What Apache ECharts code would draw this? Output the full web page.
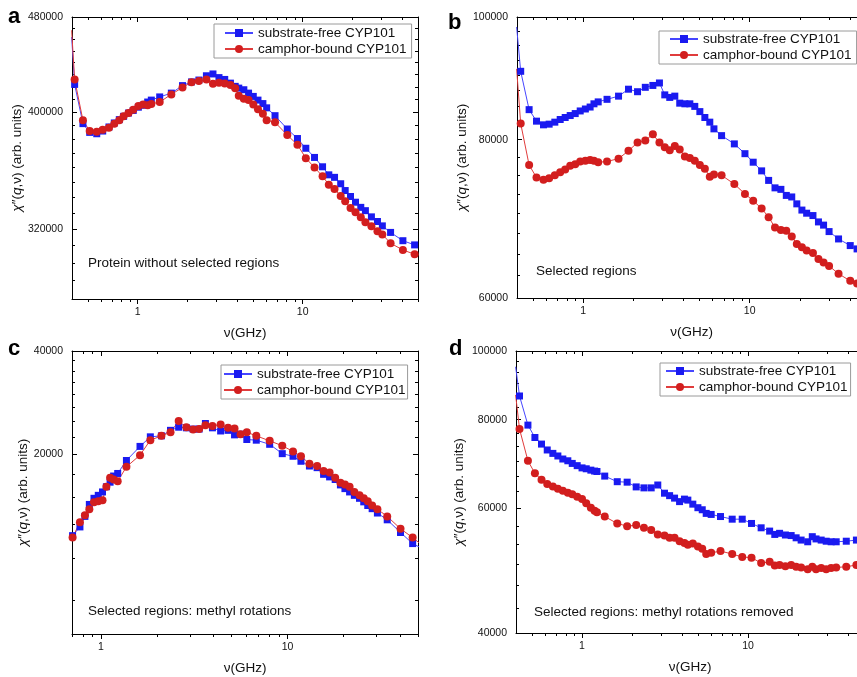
<!DOCTYPE html>
<html>
<head>
<meta charset="utf-8">
<script src="https://cdn.jsdelivr.net/npm/echarts@6.0.0/dist/echarts.min.js"></script>
<style>
html,body{margin:0;padding:0;background:#fff}
#chart{width:857px;height:677px}
</style>
</head>
<body>
<div id="chart"></div>
<script>
var nameFree = 'substrate-free CYP101';
var nameBound = 'camphor-bound CYP101';

// a: protein without selected regions
var freqA = [0.398, 0.415, 0.466, 0.512, 0.565, 0.614, 0.670, 0.722, 0.774, 0.822, 0.88, 0.94, 1.01, 1.08, 1.15, 1.21, 1.36, 1.60, 1.87, 2.12, 2.35, 2.61, 2.86, 3.11, 3.37, 3.65, 3.90, 4.10, 4.40, 4.70, 5.02, 5.36, 5.74, 6.05, 6.80, 8.07, 9.30, 10.45, 11.8, 13.2, 14.4, 15.6, 17.0, 18.1, 19.5, 20.9, 22.5, 24.0, 26.1, 28.4, 30.4, 34.1, 40.5, 47.7];
var freeA = [462000, 422000, 391500, 385000, 384000, 386000, 389000, 392000, 394500, 397000, 399500, 401500, 404000, 405500, 408000, 409500, 412000, 415000, 421000, 424000, 425500, 429000, 430500, 427500, 426000, 423000, 420400, 419000, 417700, 415000, 412400, 409500, 406800, 403500, 397500, 387500, 380500, 373500, 367000, 360500, 355000, 353300, 349000, 344500, 340600, 336900, 333600, 331500, 327600, 324700, 322000, 318000, 313000, 310500];
var boundA = [468000, 426000, 394000, 386000, 385500, 387000, 388500, 391500, 394000, 397000, 399500, 402000, 405000, 406000, 405500, 406500, 408000, 414000, 419500, 423700, 424700, 426000, 422500, 423300, 422700, 421400, 418800, 413000, 410600, 409500, 406000, 402500, 399000, 394000, 392500, 383000, 376000, 366500, 360000, 354000, 348400, 345500, 341000, 337500, 333200, 330500, 327400, 324300, 321700, 318700, 316800, 311500, 307500, 305000];

// b: selected regions
var freqB = [0.398, 0.421, 0.473, 0.524, 0.577, 0.624, 0.675, 0.727, 0.779, 0.835, 0.895, 0.959, 1.03, 1.10, 1.16, 1.23, 1.39, 1.63, 1.87, 2.12, 2.36, 2.62, 2.87, 3.09, 3.31, 3.55, 3.80, 4.08, 4.37, 4.68, 5.02, 5.38, 5.76, 6.10, 6.78, 8.09, 9.37, 10.5, 11.8, 13.0, 14.2, 15.4, 16.6, 17.9, 19.2, 20.6, 22.0, 24.0, 25.9, 27.8, 30.0, 34.2, 40.2, 44.2];
var freeB = [98200, 90600, 84500, 82750, 82200, 82300, 82600, 83000, 83300, 83600, 83900, 84300, 84600, 84900, 85400, 85700, 86100, 86600, 87700, 87300, 88000, 88300, 88700, 86800, 86400, 86600, 85500, 85400, 85400, 85000, 84200, 83300, 82600, 81600, 80600, 79400, 78000, 76800, 75600, 74300, 73300, 73100, 72300, 72100, 71200, 70400, 70000, 69700, 68900, 68500, 67700, 66800, 66000, 65600];
var boundB = [91000, 82400, 76400, 74700, 74400, 74600, 75000, 75400, 75800, 76300, 76500, 76900, 77000, 77100, 77000, 76800, 76900, 77300, 78400, 79600, 79900, 80800, 79600, 78900, 78500, 79100, 78600, 77600, 77400, 77000, 76400, 75900, 74800, 75100, 75000, 73800, 72500, 71600, 70600, 69500, 68200, 67900, 67800, 67100, 66200, 65800, 65400, 65100, 64400, 64000, 63600, 62700, 61900, 61600];

// c: methyl rotations
var freqC = [0.705, 0.772, 0.821, 0.867, 0.918, 0.968, 1.02, 1.07, 1.12, 1.17, 1.23, 1.37, 1.62, 1.84, 2.11, 2.36, 2.61, 2.87, 3.12, 3.36, 3.63, 3.96, 4.38, 4.80, 5.20, 5.60, 6.05, 6.80, 8.02, 9.37, 10.7, 11.8, 13.1, 14.4, 15.6, 16.8, 18.0, 19.2, 20.3, 21.5, 22.8, 24.3, 25.6, 26.9, 28.4, 30.3, 34.2, 40.3, 46.8, 50.8];
var freeC = [11600, 12300, 13200, 14300, 14900, 15200, 15550, 16100, 16600, 17300, 17600, 19200, 21100, 22500, 22650, 23500, 24000, 23900, 23700, 23700, 24600, 23900, 23400, 23500, 22800, 22900, 22100, 22000, 21400, 20100, 19750, 19100, 18500, 18300, 17500, 17200, 16900, 16300, 15900, 15550, 15200, 14900, 14550, 14200, 13900, 13500, 12900, 11850, 11000, 10750];
var boundC = [11450, 12700, 13300, 13850, 14500, 14600, 14700, 16100, 17100, 16900, 16700, 18400, 19900, 22000, 22650, 23200, 25000, 24000, 23650, 23700, 24300, 24200, 24450, 23900, 23800, 22900, 23200, 22650, 21900, 21200, 20400, 19750, 18800, 18500, 17900, 17700, 17100, 16550, 16350, 16100, 15550, 15200, 14900, 14600, 14200, 13850, 13200, 12150, 11450, 11050];

// d: methyl rotations removed
var freqD = [0.398, 0.420, 0.472, 0.520, 0.570, 0.617, 0.667, 0.715, 0.766, 0.821, 0.873, 0.935, 1.00, 1.06, 1.13, 1.19, 1.23, 1.37, 1.63, 1.87, 2.12, 2.36, 2.61, 2.86, 3.14, 3.37, 3.61, 3.87, 4.14, 4.34, 4.65, 4.99, 5.30, 5.60, 6.00, 6.83, 8.03, 9.23, 10.5, 12.0, 13.5, 14.5, 15.5, 16.8, 18.2, 19.5, 20.9, 22.9, 24.4, 25.7, 27.6, 29.6, 31.7, 34.0, 39.1, 45.0];
var freeD = [95000, 86400, 78600, 75500, 73900, 72500, 71700, 71100, 70400, 70000, 69400, 68900, 68400, 68200, 67900, 67700, 67600, 66600, 65400, 65300, 64300, 64100, 64100, 64700, 63000, 62500, 62000, 61300, 61800, 61600, 60800, 60100, 59700, 59000, 58800, 58400, 57900, 57900, 57100, 56300, 55700, 55100, 55300, 55000, 54900, 54500, 54100, 53800, 54700, 54300, 54100, 53900, 53800, 53800, 53900, 54100];
var boundD = [86700, 77600, 70000, 67200, 65800, 64900, 64400, 63900, 63500, 63100, 62800, 62300, 61800, 61000, 60100, 59500, 59200, 58400, 57100, 56600, 56800, 56300, 55900, 55100, 54900, 54500, 54500, 53900, 53600, 53300, 53500, 53000, 52600, 51700, 51900, 52200, 51700, 51200, 51100, 50200, 50400, 49800, 49900, 49700, 49900, 49600, 49500, 49200, 49600, 49200, 49400, 49200, 49400, 49500, 49600, 49900];

// tick labels
var xLabels = [1, 10];
var xMinorAll = [0.5, 0.6, 0.7, 0.8, 0.9, 2, 3, 4, 5, 6, 7, 8, 9, 20, 30, 40, 50];
var yLabelsA = [320000, 400000, 480000];
var yLabelsB = [60000, 80000, 100000];
var yLabelsC = [20000, 40000];
var yLabelsD = [40000, 60000, 80000, 100000];

var FONT = '"Liberation Sans", Arial, sans-serif';

function stepTicks(from, to, step) {
    var out = [];
    for (var v = from; v <= to + 1e-6; v += step) out.push(Math.round(v * 100) / 100);
    return out;
}
function pairs(f, v) {
    return f.map(function (x, i) { return [x, v[i]]; });
}

var panels = [
    {grid: {left: 72, top: 17, width: 346, height: 282}, xMin: 0.4, xMax: 50, yMin: 280000, yMax: 480000,
     yLabels: yLabelsA, yMinor: stepTicks(280000, 480000, 10000), yNameGap: 47,
     freq: freqA, free: freeA, bound: boundA,
     legend: {left: 214, top: 24, padding: [2, 5, 2, 10]},
     note: {x: 88, y: 263.5, text: 'Protein without selected regions'}, letter: {x: 8, y: 16.5, text: 'a'}},
    {grid: {left: 517, top: 17, width: 349, height: 281}, xMin: 0.4, xMax: 50, yMin: 60000, yMax: 100000,
     yLabels: yLabelsB, yMinor: stepTicks(60000, 100000, 2500), yNameGap: 46,
     freq: freqB, free: freeB, bound: boundB,
     legend: {left: 659, top: 31, padding: [1, 5, 2, 10]},
     note: {x: 536, y: 271, text: 'Selected regions'}, letter: {x: 448, y: 22.5, text: 'b'}},
    {grid: {left: 72, top: 351, width: 346, height: 283}, xMin: 0.7, xMax: 50, yMin: 6000, yMax: 40000,
     yLabels: yLabelsC, yMinor: stepTicks(7500, 40000, 2500), yNameGap: 40,
     freq: freqC, free: freeC, bound: boundC,
     legend: {left: 221, top: 365, padding: [2, 2, 2, 2]},
     note: {x: 88, y: 611.5, text: 'Selected regions: methyl rotations'}, letter: {x: 8, y: 349, text: 'c'}},
    {grid: {left: 516, top: 351, width: 348, height: 282}, xMin: 0.4, xMax: 50, yMin: 40000, yMax: 100000,
     yLabels: yLabelsD, yMinor: stepTicks(40000, 100000, 20000 / 6), yNameGap: 50,
     freq: freqD, free: freeD, bound: boundD,
     legend: {left: 660, top: 363, padding: [1, 3, 2, 5]},
     note: {x: 534, y: 612.5, text: 'Selected regions: methyl rotations removed'}, letter: {x: 449, y: 349, text: 'd'}}
];

var black = {color: '#000', width: 1};
function logAxis(gi, min, max, extra) {
    var base = {
        type: 'log', logBase: 10, gridIndex: gi, min: min, max: max, silent: true,
        splitLine: {show: false},
        axisLine: {show: false, onZero: false, lineStyle: black},
        axisTick: {show: false},
        axisLabel: {show: false}
    };
    return Object.assign(base, extra);
}
function ticks(values, len, inside) {
    return {show: true, inside: inside, length: len, customValues: values, lineStyle: black};
}
function plainNumber(v) { return String(Math.round(v * 1000) / 1000); }
// points left of the axis start only feed the line coming in from the edge
function edgeSize(size, xMin) {
    return function (val) { return val[0] < xMin ? 0 : size; };
}

var grids = [], xAxes = [], yAxes = [], series = [], legends = [], graphics = [];

panels.forEach(function (p, gi) {
    grids.push(Object.assign({outerBoundsMode: 'none', containLabel: false}, p.grid));
    var xMinor = xMinorAll.filter(function (v) { return v >= p.xMin && v <= p.xMax; });
    var xi = xAxes.length, yi = yAxes.length;

    xAxes.push(logAxis(gi, p.xMin, p.xMax, {
        position: 'bottom',
        axisLine: {show: true, onZero: false, lineStyle: black},
        axisTick: ticks(xLabels, 5, false),
        axisLabel: {show: true, customValues: xLabels, margin: 8, fontFamily: FONT, fontSize: 10.5, color: '#111', formatter: plainNumber},
        name: '\u03bd(GHz)', nameLocation: 'middle', nameGap: 27,
        nameTextStyle: {fontFamily: FONT, fontSize: 13.5, color: '#111'}
    }));
    xAxes.push(logAxis(gi, p.xMin, p.xMax, {position: 'bottom', axisTick: ticks(xMinor, 3, false)}));
    xAxes.push(logAxis(gi, p.xMin, p.xMax, {position: 'top', axisLine: {show: true, onZero: false, lineStyle: black}, axisTick: ticks(xLabels, 5, true)}));
    xAxes.push(logAxis(gi, p.xMin, p.xMax, {position: 'top', axisTick: ticks(xMinor, 3, true)}));

    yAxes.push(logAxis(gi, p.yMin, p.yMax, {
        position: 'left',
        axisLine: {show: true, onZero: false, lineStyle: black},
        axisTick: ticks(p.yLabels, 5, true),
        axisLabel: {show: true, customValues: p.yLabels, margin: 9, fontFamily: FONT, fontSize: 10.5, color: '#111', formatter: plainNumber},
        name: '{i|\u03c7}\u2033({i|q},\u03bd) (arb. units)', nameLocation: 'middle', nameRotate: 90, nameGap: p.yNameGap,
        nameTextStyle: {fontFamily: FONT, fontSize: 13.5, color: '#111',
            rich: {i: {fontFamily: FONT, fontSize: 13.5, fontStyle: 'italic', color: '#111'}}}
    }));
    yAxes.push(logAxis(gi, p.yMin, p.yMax, {position: 'left', axisTick: ticks(p.yMinor, 3, true)}));
    yAxes.push(logAxis(gi, p.yMin, p.yMax, {position: 'right', axisLine: {show: true, onZero: false, lineStyle: black}, axisTick: ticks(p.yLabels, 5, true)}));
    yAxes.push(logAxis(gi, p.yMin, p.yMax, {position: 'right', axisTick: ticks(p.yMinor, 3, true)}));

    series.push({
        type: 'line', name: nameFree, xAxisIndex: xi, yAxisIndex: yi, clip: true,
        data: pairs(p.freq, p.free),
        symbol: 'rect', symbolSize: edgeSize(7, p.xMin),
        itemStyle: {color: '#1a1af0'},
        lineStyle: {color: '#4646ff', width: 1},
        emphasis: {disabled: true}
    });
    series.push({
        type: 'line', name: nameBound, xAxisIndex: xi, yAxisIndex: yi, clip: true,
        data: pairs(p.freq, p.bound),
        symbol: 'circle', symbolSize: edgeSize(8, p.xMin),
        itemStyle: {color: '#d21e1e'},
        lineStyle: {color: '#e03c3c', width: 1},
        emphasis: {disabled: true}
    });

    legends.push({
        orient: 'vertical', left: p.legend.left, top: p.legend.top, padding: p.legend.padding,
        itemGap: 2, itemWidth: 28, itemHeight: 10,
        borderColor: '#9a9a9a', borderWidth: 1, backgroundColor: '#fff', selectedMode: false,
        data: [nameFree, nameBound],
        textStyle: {fontFamily: FONT, fontSize: 13.5, color: '#111'}
    });

    graphics.push({type: 'text', x: p.note.x, y: p.note.y, silent: true,
        style: {text: p.note.text, font: '13.5px ' + FONT, fill: '#111', verticalAlign: 'middle'}});
    graphics.push({type: 'text', x: p.letter.x, y: p.letter.y, silent: true,
        style: {text: p.letter.text, font: 'bold 22px ' + FONT, fill: '#000', verticalAlign: 'middle'}});
});

var chart = echarts.init(document.getElementById('chart'));
chart.setOption({
    animation: false,
    backgroundColor: '#fff',
    grid: grids,
    xAxis: xAxes,
    yAxis: yAxes,
    legend: legends,
    series: series,
    graphic: graphics
});
</script>
</body>
</html>
